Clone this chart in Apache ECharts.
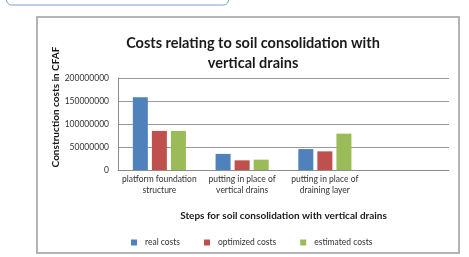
<!DOCTYPE html>
<html>
<head>
<meta charset="utf-8">
<script src="https://cdn.jsdelivr.net/npm/echarts@6/dist/echarts.min.js"></script>
<style>
  html, body {margin: 0; padding: 0; background: #fff;}
  #chart {width: 469px; height: 257px;}
</style>
</head>
<body>
<div id="chart"></div>
<script>
(function(){
  'use strict';

  /*
    chart data
  */
  var categories = [
    'platform foundation\nstructure',
    'putting in place of\nvertical drains',
    'putting in place of\ndraining layer',
    ''
  ];
  var realCosts      = [158000000, 35000000, 45500000, null],
      optimizedCosts = [85000000, 21000000, 40500000, null],
      estimatedCosts = [85000000, 22500000, 79000000, null];
  var seriesNames = ['real costs', 'optimized costs', 'estimated costs'];

  var font = 'Lato, "Liberation Sans", sans-serif';

  var bar = function(name, data, color){
    return {
      name: name,
      type: 'bar',
      data: data,
      barWidth: 15,
      barGap: '27%',
      itemStyle: {color: color},
      silent: true
    };
  };

  var option = {
    animation: false,
    textStyle: {fontFamily: font},
    title: {
      text: 'Costs relating to soil consolidation with\nvertical drains',
      left: 248,
      textAlign: 'center',
      top: 28,
      textStyle: {fontFamily: font, fontSize: 14.5, fontWeight: 'bold', color: '#1a1a1a', lineHeight: 20}
    },
    legend: {
      data: seriesNames,
      left: 126,
      top: 233,
      itemWidth: 6,
      itemHeight: 6,
      itemGap: 24,
      icon: 'rect',
      textStyle: {fontFamily: font, fontSize: 8.5, color: '#333', padding: [0, 0, 0, 3]}
    },
    grid: {left: 118, right: 20, top: 78, bottom: 87, containLabel: false},
    xAxis: {
      type: 'category',
      data: categories,
      name: 'Steps for soil consolidation with vertical drains',
      nameLocation: 'middle',
      nameGap: 41,
      nameTextStyle: {fontFamily: font, fontSize: 10, fontWeight: 'bold', color: '#1a1a1a'},
      axisLine: {lineStyle: {color: '#8c8c8c'}},
      axisTick: {show: false},
      axisLabel: {fontFamily: font, fontSize: 8.5, color: '#333', lineHeight: 11, margin: 4, interval: 0}
    },
    yAxis: {
      type: 'value',
      min: 0,
      max: 200000000,
      interval: 50000000,
      axisLine: {show: true, lineStyle: {color: '#8c8c8c'}},
      axisTick: {show: false},
      splitLine: {lineStyle: {color: '#9a9a9a'}},
      axisLabel: {
        fontFamily: font, fontSize: 8.5, color: '#333', margin: 9,
        formatter: function(v){ return String(v); }
      }
    },
    graphic: [
      {
        type: 'rect',
        shape: {x: 6.5, y: -12, width: 222, height: 17, r: 5},
        style: {fill: 'none', stroke: '#7f9ccf', lineWidth: 1}
      },
      {
        type: 'rect',
        shape: {x: 37, y: 17, width: 422, height: 236},
        style: {fill: 'none', stroke: '#b4b4b4', lineWidth: 2}
      },
      {
        type: 'text',
        x: 56,
        y: 107,
        rotation: Math.PI / 2,
        style: {
          text: 'Construction costs in CFAF',
          fontFamily: font,
          fontSize: 10,
          fontWeight: 'bold',
          fill: '#1a1a1a',
          align: 'center',
          verticalAlign: 'middle'
        }
      }
    ],
    series: [
      bar(seriesNames[0], realCosts, '#4f81bd'),
      bar(seriesNames[1], optimizedCosts, '#c0504d'),
      bar(seriesNames[2], estimatedCosts, '#9bbb59')
    ]
  };

  echarts.init(document.getElementById('chart')).setOption(option);
})();
</script>
</body>
</html>
